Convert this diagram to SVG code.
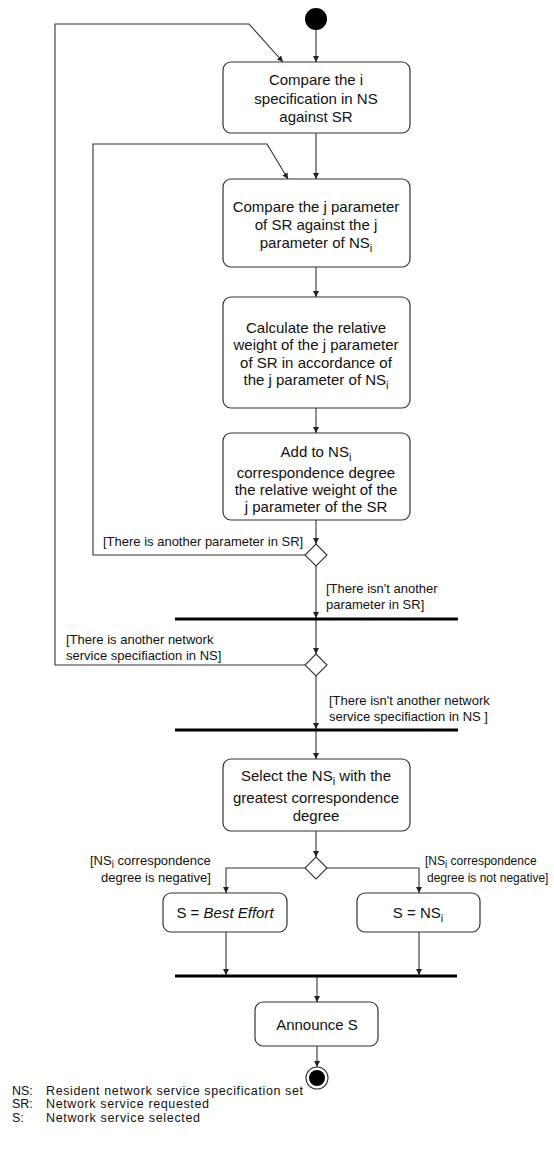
<svg xmlns="http://www.w3.org/2000/svg" width="554" height="1157" viewBox="0 0 554 1157">
<style>
.box{fill:#fff;stroke:#333;stroke-width:1.2}
.t{font-family:"Liberation Sans",Arial,sans-serif;font-size:15px;fill:#111;text-anchor:middle}
.l{font-family:"Liberation Sans",Arial,sans-serif;font-size:13px;fill:#111}
.ls{font-family:"Liberation Sans",Arial,sans-serif;font-size:12px;fill:#111}
.g{font-family:"Liberation Sans",Arial,sans-serif;font-size:12.5px;fill:#111}
.c{fill:none;stroke:#333;stroke-width:1.1}
.bar{stroke:#000;stroke-width:3}
.dia{fill:#fff;stroke:#333;stroke-width:1.1}
</style>
<defs>
<marker id="a" viewBox="0 0 10 10" refX="10" refY="5" markerWidth="6" markerHeight="6" orient="auto" markerUnits="userSpaceOnUse">
<path d="M0,0 L10,5 L0,10 z" fill="#222"/>
</marker>
</defs>
<rect width="554" height="1157" fill="#fff"/>

<g id="connectors">
<path class="c" marker-end="url(#a)" d="M316,30 L316,62"/>
<path class="c" marker-end="url(#a)" d="M316,133 L316,179"/>
<path class="c" marker-end="url(#a)" d="M316,267 L316,297"/>
<path class="c" marker-end="url(#a)" d="M316,408 L316,433"/>
<path class="c" marker-end="url(#a)" d="M316,520 L316,544"/>
<path class="c" marker-end="url(#a)" d="M305,555 L93,555 L93,144 L267,144 L288,179"/>
<path class="c" marker-end="url(#a)" d="M316,566 L316,618"/>
<path class="c" marker-end="url(#a)" d="M316,620 L316,654"/>
<path class="c" marker-end="url(#a)" d="M305,665 L55,665 L55,24 L249,24 L283,62"/>
<path class="c" marker-end="url(#a)" d="M316,676 L316,729"/>
<path class="c" marker-end="url(#a)" d="M316,731 L316,759"/>
<path class="c" marker-end="url(#a)" d="M316,831 L316,857"/>
<path class="c" marker-end="url(#a)" d="M305,868 L226,868 L226,893"/>
<path class="c" marker-end="url(#a)" d="M327,868 L419,868 L419,893"/>
<path class="c" marker-end="url(#a)" d="M226,932 L226,975"/>
<path class="c" marker-end="url(#a)" d="M419,932 L419,975"/>
<path class="c" marker-end="url(#a)" d="M317,977 L317,1002"/>
<path class="c" marker-end="url(#a)" d="M317,1046 L317,1067"/>
</g>

<g id="labels">
<text class="l" x="103" y="546">[There is another parameter in SR]</text>
<text class="l" x="326" y="593">[There isn't another</text>
<text class="l" x="326" y="609">parameter in SR]</text>
<text class="l" x="66" y="644">[There is another network</text>
<text class="l" x="66" y="660">service specifiaction in NS]</text>
<text class="l" x="329" y="705">[There isn't another network</text>
<text class="l" x="329" y="721">service specifiaction in NS ]</text>
<text class="l" x="90" y="865">[NS<tspan font-size="10" dy="3">i</tspan><tspan dy="-3"> correspondence</tspan></text>
<text class="l" x="101" y="882">degree is negative]</text>
<text class="ls" x="425" y="865">[NS<tspan font-size="10" dy="3">i</tspan><tspan dy="-3"> correspondence</tspan></text>
<text class="ls" x="427" y="882">degree is not negative]</text>
</g>

<g id="start"><circle cx="316" cy="19" r="11" fill="#000"/></g>

<g id="n1">
<rect class="box" x="223" y="62" width="187" height="71" rx="8"/>
<text class="t" x="316" y="85">Compare the i</text>
<text class="t" x="316" y="104">specification in NS</text>
<text class="t" x="316" y="122">against SR</text>
</g>

<g id="n2">
<rect class="box" x="223" y="179" width="187" height="88" rx="8"/>
<text class="t" x="316" y="212">Compare the j parameter</text>
<text class="t" x="316" y="230">of SR against the j</text>
<text class="t" x="316" y="248">parameter of NS<tspan font-size="11" dy="4">i</tspan></text>
</g>

<g id="n3">
<rect class="box" x="223" y="297" width="187" height="111" rx="8"/>
<text class="t" x="316" y="333">Calculate the relative</text>
<text class="t" x="316" y="350">weight of the j parameter</text>
<text class="t" x="316" y="368">of SR in accordance of</text>
<text class="t" x="316" y="385">the j parameter of NS<tspan font-size="11" dy="4">i</tspan></text>
</g>

<g id="n4">
<rect class="box" x="223" y="433" width="187" height="87" rx="8"/>
<text class="t" x="316" y="457">Add to NS<tspan font-size="11" dy="4">i</tspan></text>
<text class="t" x="316" y="478">correspondence degree</text>
<text class="t" x="316" y="495">the relative weight of the</text>
<text class="t" x="316" y="512">j parameter of the SR</text>
</g>

<g id="d1"><path class="dia" d="M316,544 L327,555 L316,566 L305,555 z"/></g>
<g id="bar1"><line class="bar" x1="175" y1="619" x2="458" y2="619"/></g>
<g id="d2"><path class="dia" d="M316,654 L327,665 L316,676 L305,665 z"/></g>
<g id="bar2"><line class="bar" x1="175" y1="730" x2="458" y2="730"/></g>

<g id="n5">
<rect class="box" x="223" y="759" width="187" height="72" rx="8"/>
<text class="t" x="316" y="781">Select the NS<tspan font-size="11" dy="4">i</tspan><tspan dy="-4"> with the</tspan></text>
<text class="t" x="316" y="803">greatest correspondence</text>
<text class="t" x="316" y="821">degree</text>
</g>

<g id="d3"><path class="dia" d="M316,857 L327,868 L316,879 L305,868 z"/></g>

<g id="n6">
<rect class="box" x="163" y="893" width="124" height="39" rx="8"/>
<text class="t" x="225" y="918">S = <tspan font-style="italic">Best Effort</tspan></text>
</g>

<g id="n7">
<rect class="box" x="357" y="893" width="123" height="39" rx="8"/>
<text class="t" x="418" y="918">S = NS<tspan font-size="11" dy="4">i</tspan></text>
</g>

<g id="bar3"><line class="bar" x1="175" y1="976" x2="457" y2="976"/></g>

<g id="n8">
<rect class="box" x="255" y="1002" width="123" height="44" rx="8"/>
<text class="t" x="317" y="1030">Announce S</text>
</g>

<g id="end">
<circle cx="317" cy="1078" r="11" fill="#fff" stroke="#333" stroke-width="1.1"/>
<circle cx="317" cy="1078" r="8" fill="#000"/>
</g>

<g id="legend">
<text class="g" x="12" y="1094.5">NS:</text>
<text class="g" x="46" y="1094.5" textLength="257" lengthAdjust="spacing">Resident network service specification set</text>
<text class="g" x="12" y="1108">SR:</text>
<text class="g" x="46" y="1108" textLength="163" lengthAdjust="spacing">Network service requested</text>
<text class="g" x="12" y="1121.5">S:</text>
<text class="g" x="46" y="1121.5" textLength="154" lengthAdjust="spacing">Network service selected</text>
</g>
</svg>
